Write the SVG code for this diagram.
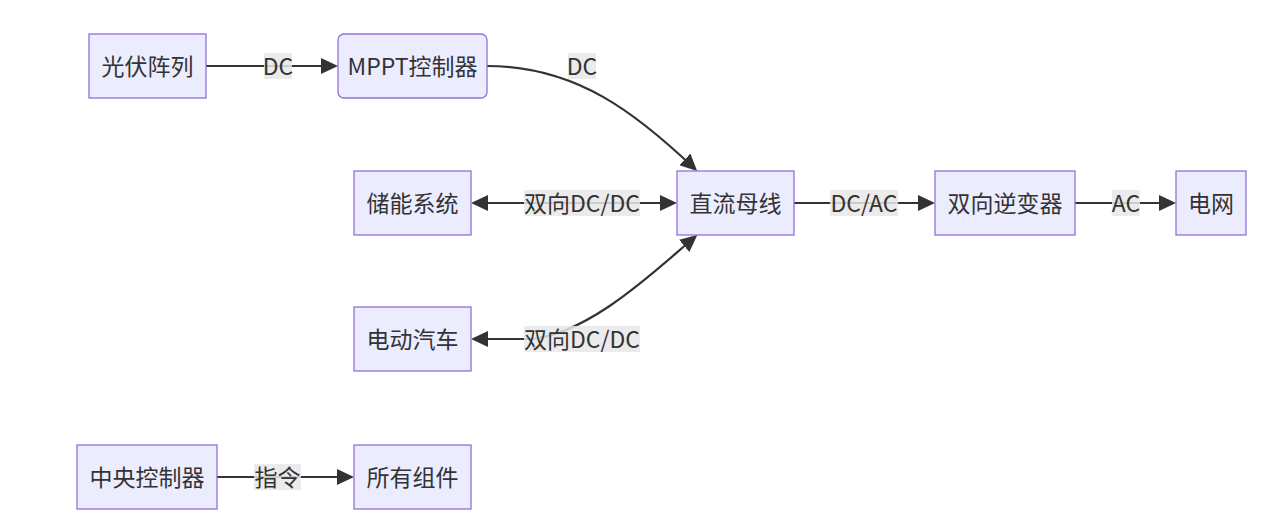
<svg xmlns="http://www.w3.org/2000/svg" width="1272" height="518" viewBox="0 0 1272 518">
<style>
  .node rect { fill: #ECECFF; stroke: #9370DB; stroke-width: 1.3; }
  .node text, .label text { font-family: "Noto Sans CJK SC", "Noto Sans", sans-serif; font-size: 23px; fill: #333333; text-anchor: middle; dominant-baseline: central; }
  .label rect { fill: #e8e8e8; fill-opacity: 0.85; }
  .edge { fill: none; stroke: #333333; stroke-width: 2.2; }
  .one { marker-end: url(#arrow); }
  .two { marker-end: url(#arrow); marker-start: url(#arrowStart); }
</style>
<defs>
  <marker id="arrow" viewBox="0 0 17 16" refX="14" refY="8" markerWidth="17" markerHeight="16" markerUnits="userSpaceOnUse" orient="auto">
    <path d="M0,0 L17,8 L0,16 z" fill="#333333"/>
  </marker>
  <marker id="arrowStart" viewBox="0 0 17 16" refX="14" refY="8" markerWidth="17" markerHeight="16" markerUnits="userSpaceOnUse" orient="auto-start-reverse">
    <path d="M0,0 L17,8 L0,16 z" fill="#333333"/>
  </marker>
</defs>
<rect width="1272" height="518" fill="#ffffff"/>
<g id="connectors">
  <path class="edge one" d="M206,66 L335,66"/>
  <path class="edge one" d="M487,66 C577,66 637,114 695,169"/>
  <path class="edge two" d="M474,203 L674,203"/>
  <path class="edge two" d="M695,237 C660,266 590,335 530,339 L474,339"/>
  <path class="edge one" d="M794,203 L932,203"/>
  <path class="edge one" d="M1075,203 L1173,203"/>
  <path class="edge one" d="M217,477 L351,477"/>
  <g class="label"><rect x="264" y="53" width="28" height="26"/><text x="278" y="65">DC</text></g>
  <g class="label"><rect x="568" y="53" width="28" height="26"/><text x="582" y="65">DC</text></g>
  <g class="label"><rect x="524" y="190" width="116" height="26"/><text x="582" y="202">双向DC/DC</text></g>
  <g class="label"><rect x="524" y="326" width="116" height="26"/><text x="582" y="338">双向DC/DC</text></g>
  <g class="label"><rect x="830" y="190" width="68" height="26"/><text x="864" y="202">DC/AC</text></g>
  <g class="label"><rect x="1112" y="190" width="28" height="26"/><text x="1126" y="202">AC</text></g>
  <g class="label"><rect x="254" y="464" width="47" height="26"/><text x="277.5" y="476">指令</text></g>
</g>
<g id="pv" class="node"><rect x="89" y="34" width="117" height="64"/><text x="147.5" y="65">光伏阵列</text></g>
<g id="mppt" class="node"><rect x="338" y="34" width="149" height="64" rx="6" ry="6"/><text x="412.5" y="65">MPPT控制器</text></g>
<g id="storage" class="node"><rect x="354" y="171" width="117" height="64"/><text x="412.5" y="202">储能系统</text></g>
<g id="bus" class="node"><rect x="677" y="171" width="117" height="64"/><text x="735.5" y="202">直流母线</text></g>
<g id="inverter" class="node"><rect x="935" y="171" width="140" height="64"/><text x="1005" y="202">双向逆变器</text></g>
<g id="grid" class="node"><rect x="1176" y="171" width="70" height="64"/><text x="1211" y="202">电网</text></g>
<g id="ev" class="node"><rect x="354" y="307" width="117" height="64"/><text x="412.5" y="338">电动汽车</text></g>
<g id="central" class="node"><rect x="77" y="445" width="140" height="64"/><text x="147" y="476">中央控制器</text></g>
<g id="all" class="node"><rect x="354" y="445" width="117" height="64"/><text x="412.5" y="476">所有组件</text></g>
</svg>
